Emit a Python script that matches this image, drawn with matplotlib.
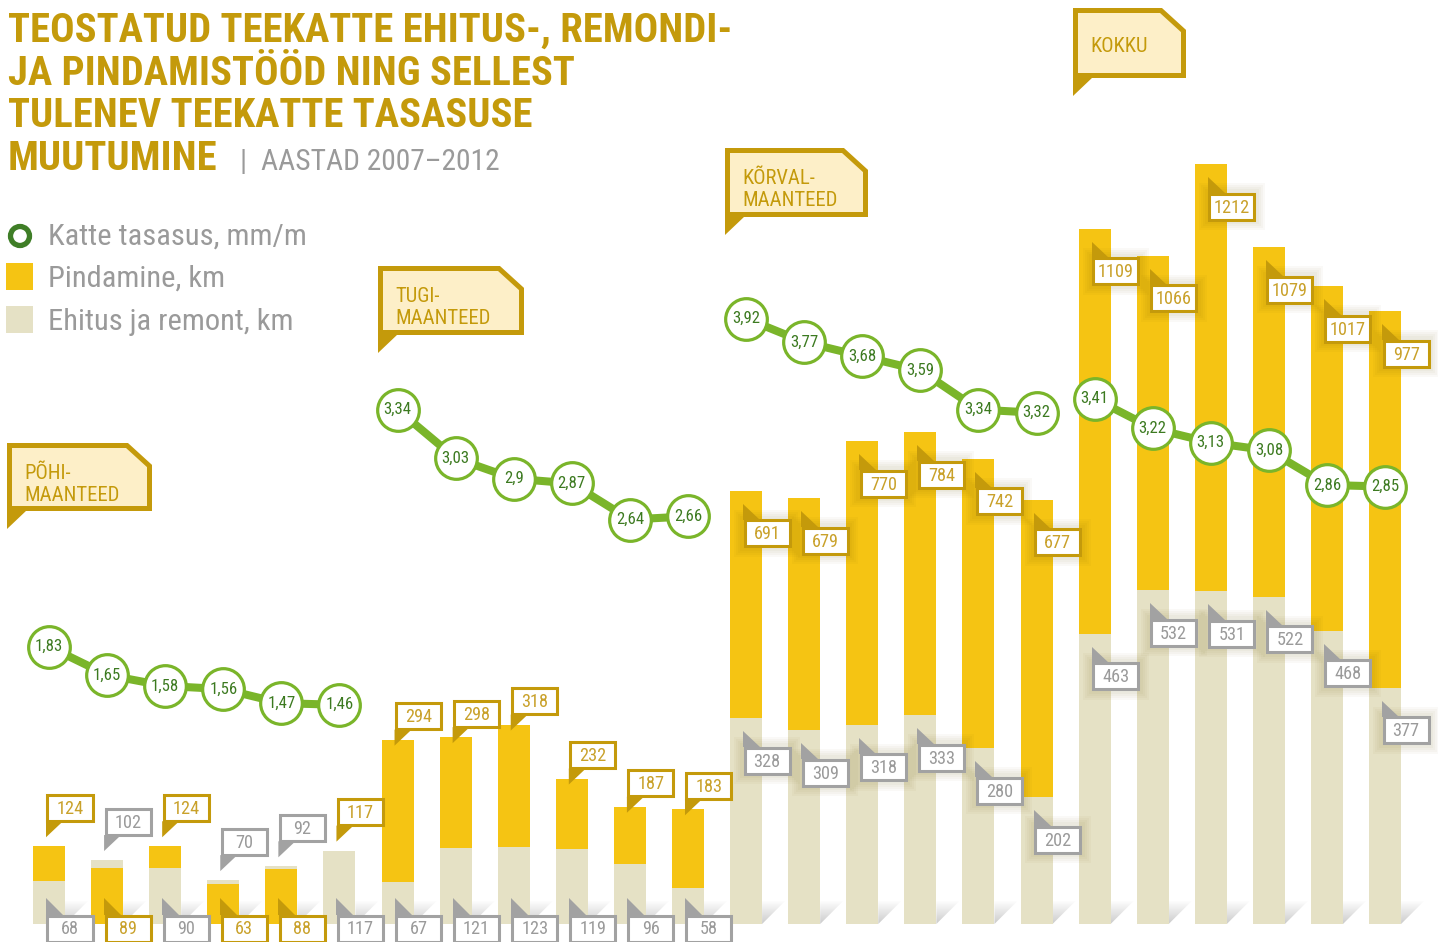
import os
import matplotlib
matplotlib.use("Agg")
import matplotlib.pyplot as plt
from matplotlib.patches import Polygon, Rectangle, Circle
from matplotlib import font_manager
from matplotlib.font_manager import FontProperties
import numpy as np

W, H = 1438, 942

years = [2007, 2008, 2009, 2010, 2011, 2012]
groups = ["PÕHI-\nMAANTEED", "TUGI-\nMAANTEED", "KÕRVAL-\nMAANTEED", "KOKKU"]
pindamine = [124, 89, 124, 63, 88, 117,
             294, 298, 318, 232, 187, 183,
             691, 679, 770, 784, 742, 677,
             1109, 1066, 1212, 1079, 1017, 977]
ehitus = [68, 102, 90, 70, 92, 117,
          67, 121, 123, 119, 96, 58,
          328, 309, 318, 333, 280, 202,
          463, 532, 531, 522, 468, 377]
tasasus = [1.83, 1.65, 1.58, 1.56, 1.47, 1.46,
           3.34, 3.03, 2.90, 2.87, 2.64, 2.66,
           3.92, 3.77, 3.68, 3.59, 3.34, 3.32,
           3.41, 3.22, 3.13, 3.08, 2.86, 2.85]

YELLOW = "#F5C413"
BEIGE = "#E5E1C5"
GOLD = "#C49A0B"
VAL_GOLD = "#C9A12A"
CREAM = "#FDEFC8"
GREY = "#A2A2A2"
GREY_TXT = "#9A9A9A"
GREEN = "#7AB52A"
GREEN_TXT = "#3C7A20"
GREEN_DARK = "#3F7E27"


def pick_font(bold):
    """first narrow / condensed face that is installed, else Roboto"""
    prefs = ["robotocondensed", "liberationsansnarrow", "notosans-condensed",
             "opensans-cond", "opensanscondensed", "dejavusanscondensed"]
    skip = ["italic", "oblique", "light", "thin", "medium", "black", "semi", "extra"]
    files = sorted(set(f.fname for f in font_manager.fontManager.ttflist))
    for key in prefs:
        for fn in files:
            base = os.path.basename(fn).replace(" ", "").replace("_", "").lower()
            if key not in base or any(s in base for s in skip):
                continue
            if bold == ("bold" in base):
                return FontProperties(fname=fn)
    return FontProperties(family="Roboto", weight="bold" if bold else "normal")


FP = pick_font(False)
FPB = pick_font(True)

# pixel layout of the original
BASE = 924      # bar baseline (px from top)
KM_PX = 0.627   # px per km
T0, T_PX = 934, 157
X0, DX, BW = 49, 58.09, 32

fig = plt.figure(figsize=(W / 100, H / 100), dpi=100)
renderer = fig.canvas.get_renderer()

ax = fig.add_axes([0, 0, 1, 1], zorder=1)
ax.set_xlim(-X0 / DX, (W - X0) / DX)
ax.set_ylim(-(H - BASE) / KM_PX, BASE / KM_PX)
ax.axis("off")

axp = fig.add_axes([0, 0, 1, 1], zorder=2)
axp.set_xlim(0, W)
axp.set_ylim(H, 0)
axp.axis("off")
axp.set_autoscale_on(False)

ax2 = ax.twinx()
ax2.set_zorder(3)
ax2.set_ylim(-(H - T0) / T_PX, T0 / T_PX)
ax2.axis("off")


def size_for(sample, target, fp):
    t = axp.text(0, 0, sample, fontproperties=fp, fontsize=20)
    wdt = t.get_window_extent(renderer=renderer).width
    t.remove()
    return 20 * target / wdt


VAL_FS = size_for("124", 27, FP)
CIRC_FS = size_for("1,83", 28, FP)

x = np.arange(len(pindamine))
p = np.array(pindamine)
e = np.array(ehitus)
bw = BW / DX

# bigger value at the back, smaller one in front
back = np.maximum(p, e)
front = np.minimum(p, e)
back_col = [YELLOW if pi >= ei else BEIGE for pi, ei in zip(p, e)]
front_col = [BEIGE if pi >= ei else YELLOW for pi, ei in zip(p, e)]
ax.bar(x, back, width=bw, color=back_col, zorder=2)
ax.bar(x, front, width=bw, color=front_col, zorder=3)


def to_pix(axis, xv, yv):
    d = axis.transData.transform((xv, yv))
    return axp.transData.inverted().transform(d)


# floor shadow next to each bar
grad = np.zeros((32, 1, 4))
grad[..., :3] = 0.5
grad[:, 0, 3] = np.linspace(0.0, 0.4, 32)
for i in x:
    xr, yb = to_pix(ax, i + bw / 2, 0)
    tri = Polygon([(xr, yb), (xr + 24, yb - 24), (xr, yb - 24)], closed=True,
                  fc="none", ec="none")
    axp.add_patch(tri)
    im = axp.imshow(grad, extent=(xr, xr + 24, yb, yb - 24), aspect="auto",
                    interpolation="bilinear", zorder=1)
    im.set_clip_path(tri)

BOXW, BOXH = 48, 29


def value_box(bx, by, val, col, tcol, glow=False):
    if glow:
        for k in (9, 7, 5, 3):
            axp.add_patch(Rectangle((bx - k, by - k), BOXW + 2 * k, BOXH + 2 * k,
                                    fc="#6b5800", ec="none", alpha=0.03, zorder=4))
    axp.add_patch(Rectangle((bx + 1.5, by + 1.5), BOXW - 3, BOXH - 3, fc="white",
                            ec=col, lw=2.2, zorder=5))
    axp.text(bx + BOXW / 2, by + BOXH / 2 + 1, str(val), ha="center", va="center",
             color=tcol, fontsize=VAL_FS, fontproperties=FP, zorder=6)


for i in x:
    cx, top_p = to_pix(ax, i, p[i])
    _, top_e = to_pix(ax, i, e[i])
    bx = cx - 3
    if i < 12:
        gap = 24 if i < 6 else 9
        if p[i] >= e[i]:
            hi, hi_col, hi_t, lo, lo_col, lo_t, top = p[i], GOLD, VAL_GOLD, e[i], GREY, GREY_TXT, top_p
        else:
            hi, hi_col, hi_t, lo, lo_col, lo_t, top = e[i], GREY, GREY_TXT, p[i], GOLD, VAL_GOLD, top_e
        bb = top - gap
        axp.add_patch(Polygon([(bx, bb - 1), (bx + 17, bb - 1), (bx, bb + 15)],
                              fc=hi_col, ec="none", zorder=5))
        value_box(bx, bb - BOXH, hi, hi_col, hi_t)
        axp.add_patch(Polygon([(bx, 898), (bx, 915), (bx + 17, 915)],
                              fc=lo_col, ec="none", zorder=5))
        value_box(bx, 914, lo, lo_col, lo_t)
    else:
        for val, col, tcol, top in ((p[i], GOLD, VAL_GOLD, top_p), (e[i], GREY, GREY_TXT, top_e)):
            axp.add_patch(Polygon([(bx, top + 13), (bx, top + 29), (bx + 17, top + 29)],
                                  fc=col, ec="none", zorder=5))
            value_box(bx, top + 28, val, col, tcol, glow=True)

# roughness line per road group
for g in range(len(groups)):
    sl = slice(6 * g, 6 * g + 6)
    ax2.plot(x[sl], tasasus[sl], color=GREEN, lw=5.8, solid_capstyle="butt", zorder=1)
    ax2.plot(x[sl], tasasus[sl], "o", ms=30, mfc="white", mec=GREEN, mew=2.3, zorder=2)
    for xi, t in zip(x[sl], tasasus[sl]):
        ax2.text(xi, t, ("%g" % t).replace(".", ","), ha="center", va="center",
                 color=GREEN_TXT, fontsize=CIRC_FS, fontproperties=FP, zorder=3)

# group callouts
callouts = [(7, 443, 145, 68), (378, 266, 146, 69), (725, 148, 143, 69), (1073, 8, 113, 70)]
CALL_FS = size_for("MAANTEED", 95, FP)
for (x0, y0, w, h), name in zip(callouts, groups):
    s = 2.5
    verts = [(x0 + s, y0 + s), (x0 + w - 25, y0 + s), (x0 + w - s, y0 + 23),
             (x0 + w - s, y0 + h - s), (x0 + s, y0 + h - s)]
    axp.add_patch(Polygon(verts, closed=True, fc=CREAM, ec=GOLD, lw=3.6,
                          joinstyle="miter", zorder=5))
    axp.add_patch(Polygon([(x0, y0 + h - 1), (x0 + 20, y0 + h - 1), (x0, y0 + h + 18)],
                          fc=GOLD, ec="none", zorder=5))
    lines = name.split("\n")
    if len(lines) == 1:
        axp.text(x0 + 17, y0 + 44, lines[0], color=GOLD, fontsize=CALL_FS,
                 fontproperties=FP, va="baseline", zorder=6)
    else:
        for k, ln in enumerate(lines):
            axp.text(x0 + 17, y0 + 36 + 22 * k, ln, color=GOLD, fontsize=CALL_FS,
                     fontproperties=FP, va="baseline", zorder=6)

# title
title_lines = ["TEOSTATUD TEEKATTE EHITUS-, REMONDI-", "JA PINDAMISTÖÖD NING SELLEST",
               "TULENEV TEEKATTE TASASUSE", "MUUTUMINE"]
TITLE_FS = size_for(title_lines[0], 724, FPB)
for k, ln in enumerate(title_lines):
    axp.text(8, 42 + 42.7 * k, ln, color=GOLD, fontsize=TITLE_FS, fontproperties=FPB,
             va="baseline")
axp.text(239, 170, "|", color=GREY_TXT, fontsize=21, fontproperties=FP, va="baseline")
SUB_FS = size_for("AASTAD 2007–2012", 239, FP)
axp.text(261, 170, "AASTAD 2007–2012", color=GREY_TXT, fontsize=SUB_FS, fontproperties=FP,
         va="baseline")

# legend
axp.add_patch(Circle((20, 236), 9.5, fc="white", ec=GREEN_DARK, lw=3.8, zorder=5))
axp.add_patch(Rectangle((6, 263), 27, 27, fc=YELLOW, ec="none", zorder=5))
axp.add_patch(Rectangle((6, 306), 27, 27, fc=BEIGE, ec="none", zorder=5))
LEG_FS = size_for("Katte tasasus, mm/m", 258, FP)
for yb, lab in ((245, "Katte tasasus, mm/m"), (287, "Pindamine, km"), (330, "Ehitus ja remont, km")):
    axp.text(48, yb, lab, color=GREY_TXT, fontsize=LEG_FS, fontproperties=FP, va="baseline")

fig.savefig("out.png", dpi=100)
